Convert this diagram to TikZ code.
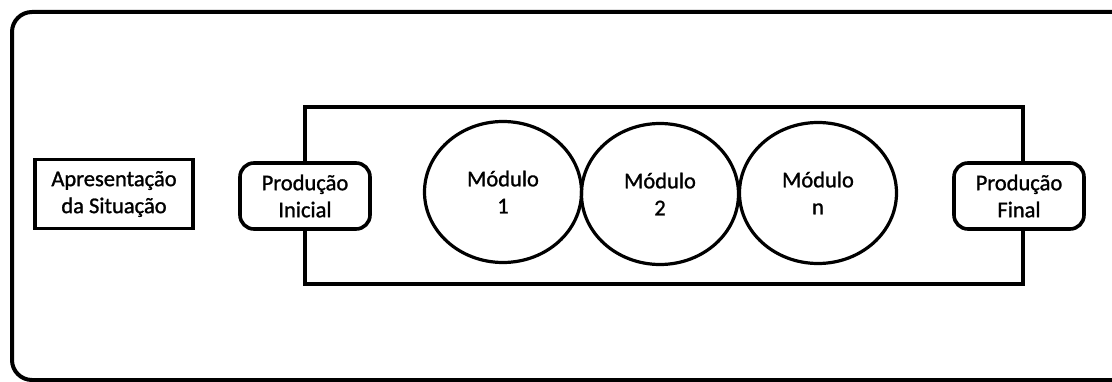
\documentclass[tikz,border=0pt]{standalone}
\usepackage{fontspec}
\setmainfont{Carlito}[FakeBold=1.2]
\usetikzlibrary{shapes.geometric}
\begin{document}
\begin{tikzpicture}[x=1pt,y=-1pt,
  every node/.style={font=\fontsize{22.5}{27}\selectfont, align=center, inner sep=0pt},
  plainbox/.style={draw, line width=3.6pt, minimum width=158pt, minimum height=69pt, fill=white},
  prodbox/.style={draw, line width=3.6pt, rounded corners=14pt, minimum width=130pt, minimum height=66pt, fill=white},
  modcirc/.style={draw, ellipse, line width=3.2pt, minimum width=157pt, minimum height=141pt}]
\useasboundingbox (0,0) rectangle (1112,382);
\clip (0,0) rectangle (1112,382);
\fill[white] (0,0) rectangle (1112,382);
% outer frame (cut off at the right and bottom)
\draw[line width=4pt, rounded corners=20pt] (1140,380) -- (12,380) -- (12,12) -- (1140,12);
% inner frame
\coordinate (fa) at (305,107);
\coordinate (fb) at (1023,284);
\draw[line width=3.6pt] (fa) rectangle (fb);
\node[plainbox] (apres) at (114,194) {Apresentação\\da Situação};
\node[prodbox] (pini) at (305,196) {Produção\\Inicial};
\node[prodbox] (pfin) at (1019,196) {Produção\\Final};
\node[modcirc] (m1) at (503,192) {Módulo\\1};
\node[modcirc] (m2) at (660,194) {Módulo\\2};
\node[modcirc] (mn) at (818,193) {Módulo\\n};
\end{tikzpicture}
\end{document}
